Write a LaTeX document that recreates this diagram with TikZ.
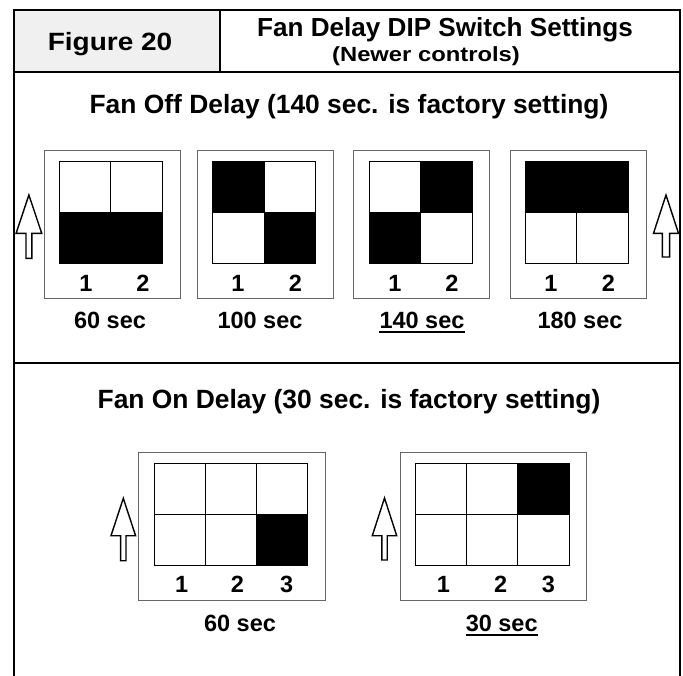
\documentclass[tikz,border=0pt]{standalone}
\usepackage{fontspec}
\setmainfont{Liberation Sans}
\newcommand\hollowup[6]{%
  \draw[arrowshape] (#1,#2) -- ({#1+#3},#4) -- ({#1+#5},#4) -- ({#1+#5},#6) --
    ({#1-#5},#6) -- ({#1-#5},#4) -- ({#1-#3},#4) -- cycle;}
\begin{document}
\begin{tikzpicture}[x=1pt,y=-1pt,
  frame/.style={line width=2pt,line cap=rect},
  thinframe/.style={line width=1.2pt},
  swbox/.style={draw=black!60,line width=1pt},
  grid/.style={draw=black,line width=0.9pt},
  arrowshape/.style={draw=black,fill=white,line width=1.4pt,line join=miter},
  txt/.style={anchor=base,inner sep=0pt,font=\bfseries},
  big/.style={txt,font=\fontsize{26.4pt}{28pt}\selectfont\bfseries},
  ttl/.style={txt,font=\fontsize{26.1pt}{27pt}\selectfont\bfseries},
  sub/.style={txt,font=\fontsize{20.5pt}{22pt}\selectfont\bfseries},
  fig/.style={txt,font=\fontsize{25pt}{26pt}\selectfont\bfseries},
  lbl/.style={txt,font=\fontsize{23.5pt}{25pt}\selectfont\bfseries},
  uline/.style={line width=2pt}]
\useasboundingbox (0,0) rectangle (683,675);

% header
\fill[black!6] (14,10) rectangle (220,72);
\draw[frame] (14,675) -- (14,10) -- (680,10) -- (680,675);
\draw[frame] (14,72) -- (220,72) -- (220,10);
\draw[thinframe] (220,72) -- (680,72);
\draw[frame] (14,363) -- (680,363);

\node[fig] (fig) at (110,50) {\scalebox{1.12}[1]{Figure 20}};
\node[ttl] (title) at (445,36.5) {Fan Delay DIP Switch Settings};
\node[sub] (subtitle) at (426,61) {\scalebox{1.16}[1]{(Newer controls)}};

\node[big] (offhead) at (349,113) {Fan Off Delay (140 sec. is factory setting)};
\node[big] (onhead) at (349,408) {Fan On Delay (30 sec. is factory setting)};

% ---- top switches ----
% switch 1 : 60 sec
\draw[swbox] (44,150.7) rectangle (180,298);
\fill (59.3,212) rectangle (162.3,263.3);
\draw[grid] (59.3,161) rectangle (162.3,263.3) (110.8,161) -- (110.8,263.3) (59.3,212) -- (162.3,212);
% switch 2 : 100 sec
\draw[swbox] (197.3,150.7) rectangle (333.3,298);
\fill (212.7,161) rectangle (264.2,212);
\fill (264.2,212) rectangle (315.7,263.3);
\draw[grid] (212.7,161) rectangle (315.7,263.3) (264.2,161) -- (264.2,263.3) (212.7,212) -- (315.7,212);
% switch 3 : 140 sec
\draw[swbox] (353.3,150.7) rectangle (489.3,298);
\fill (420.5,161) rectangle (472,212);
\fill (369,212) rectangle (420.5,263.3);
\draw[grid] (369,161) rectangle (472,263.3) (420.5,161) -- (420.5,263.3) (369,212) -- (472,212);
% switch 4 : 180 sec
\draw[swbox] (510,150.7) rectangle (646,298);
\fill (525.3,161) rectangle (628.3,212);
\draw[grid] (525.3,161) rectangle (628.3,263.3) (576.8,161) -- (576.8,263.3) (525.3,212) -- (628.3,212);

\node[lbl] (a1) at (86,291.7) {1};
\node[lbl] (a2) at (143,291.7) {2};
\node[lbl] (b1) at (238,291.7) {1};
\node[lbl] (b2) at (295.5,291.7) {2};
\node[lbl] (c1) at (395,291.7) {1};
\node[lbl] (c2) at (452,291.7) {2};
\node[lbl] (d1) at (551,291.7) {1};
\node[lbl] (d2) at (608.5,291.7) {2};

\node[lbl] (s60) at (110,328.3) {60 sec};
\node[lbl] (s100) at (260,328.3) {100 sec};
\node[lbl] (s140) at (422,328.3) {140 sec};
\node[lbl] (s180) at (580,328.3) {180 sec};
\draw[uline] ([yshift=-3.4pt]s140.base west) -- ([yshift=-3.4pt]s140.base east);

\hollowup{28.9}{195}{12.8}{233.3}{2.9}{258.3}
\hollowup{666}{195}{12.5}{233.3}{3.6}{257}

% ---- bottom switches ----
% switch A : 60 sec
\draw[swbox] (138.3,452.7) rectangle (325.7,600.7);
\fill (256,514) rectangle (307.3,565);
\draw[grid] (154,463.3) rectangle (307.3,565) (205,463.3) -- (205,565) (256,463.3) -- (256,565) (154,514) -- (307.3,514);
% switch B : 30 sec
\draw[swbox] (400,452.7) rectangle (586.7,600.7);
\fill (517.3,463.3) rectangle (569,514);
\draw[grid] (415.3,463.3) rectangle (569,565) (466,463.3) -- (466,565) (517.3,463.3) -- (517.3,565) (415.3,514) -- (569,514);

\node[lbl] (e1) at (181.7,592.7) {1};
\node[lbl] (e2) at (237.3,592.7) {2};
\node[lbl] (e3) at (286.7,592.7) {3};
\node[lbl] (f1) at (443.3,592.7) {1};
\node[lbl] (f2) at (500.7,592.7) {2};
\node[lbl] (f3) at (548.3,592.7) {3};

\node[lbl] (t60) at (240,631.7) {60 sec};
\node[lbl] (t30) at (501.7,631.7) {30 sec};
\draw[uline] ([yshift=-3.4pt]t30.base west) -- ([yshift=-3.4pt]t30.base east);

\hollowup{123.3}{498.3}{12.3}{535.7}{2.7}{560.7}
\hollowup{384.5}{498}{12.2}{535.7}{2.7}{560}
\end{tikzpicture}
\end{document}
